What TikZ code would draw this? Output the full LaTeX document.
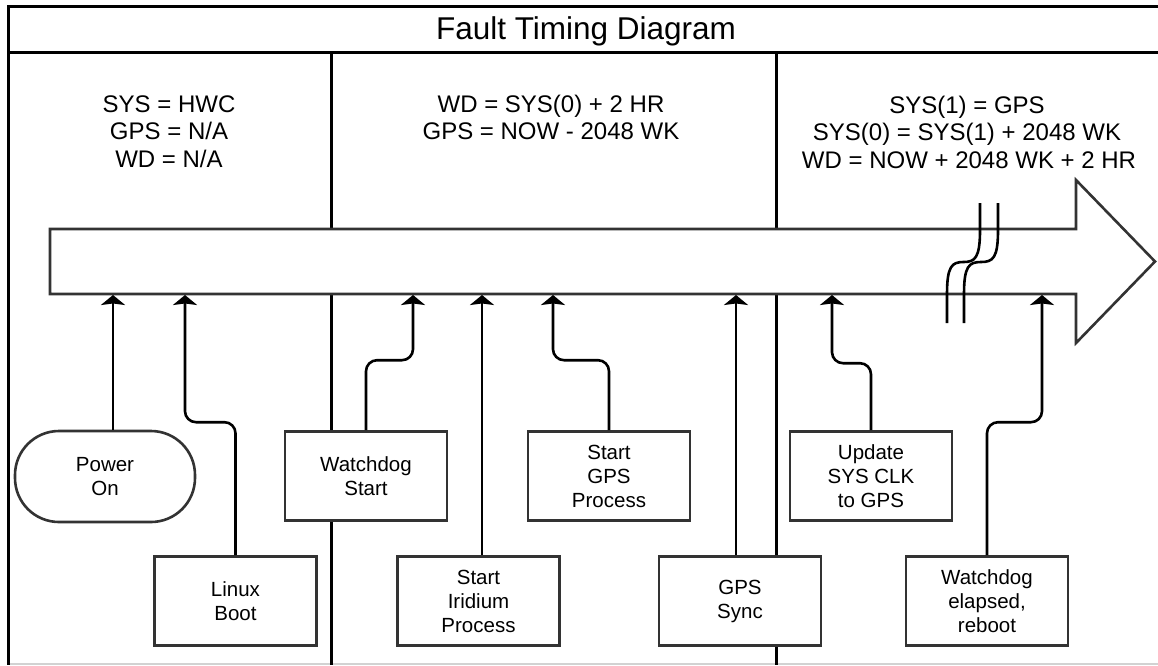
\documentclass[tikz,border=0pt]{standalone}
\usepackage{fontspec}
\setmainfont{Liberation Sans}
\usetikzlibrary{arrows.meta}
\definecolor{boxline}{HTML}{333333}
\begin{document}
\begin{tikzpicture}[x=1pt,y=-1pt,
  frameline/.style={line width=3pt, black},
  shapeline/.style={line width=2.6pt, draw=boxline, fill=white, line join=miter},
  box/.style={shapeline, rectangle, minimum width=162pt, minimum height=89pt, inner sep=0pt, align=center, font=\fontsize{20.5}{24}\selectfont},
  conn/.style={line width=2.6pt, black, -{Stealth[length=10pt 0,width=24pt 0,inset=1.5pt 0]}, rounded corners=11pt},
  headtxt/.style={font=\fontsize{24}{28}\selectfont, anchor=base, inner sep=0pt},
  brk/.style={line width=2.6pt, black},
]
\useasboundingbox (0,0) rectangle (1158,665);
% frame
\draw[gray!35, line width=1.5pt] (8,664) -- (1158,664);
\draw[frameline] (1158,6) -- (8,6) -- (8,665);
\draw[frameline] (8,52) -- (1158,52);
\draw[frameline] (331,52) -- (331,665);
\draw[frameline] (776,52) -- (776,665);
% title
\node[font=\fontsize{31.5}{36}\selectfont, anchor=base, inner sep=0pt] (title) at (586,39) {Fault Timing Diagram};
% headers
\node[headtxt] (h1a) at (169,112) {SYS = HWC};
\node[headtxt] (h1b) at (169,139.5) {GPS = N/A};
\node[headtxt] (h1c) at (169,167) {WD = N/A};
\node[headtxt] (h2a) at (551,112) {WD = SYS(0) + 2 HR};
\node[headtxt] (h2b) at (551,139.5) {GPS = NOW - 2048 WK};
\node[headtxt] (h3a) at (967,113) {SYS(1) = GPS};
\node[headtxt] (h3b) at (967,140.5) {SYS(0) = SYS(1) + 2048 WK};
\node[headtxt] (h3c) at (969,168) {WD = NOW + 2048 WK + 2 HR};
% timeline arrow
\draw[shapeline] (50,229) -- (1076,229) -- (1076,180) -- (1155,261.5) -- (1076,343) -- (1076,294) -- (50,294) -- cycle;
% break marks
\draw[brk] (980,203) -- (980,230) .. controls (980,258) and (975,262) .. (963.5,262) .. controls (952,262) and (947,266) .. (947,294) -- (947,323);
\draw[brk] (998,203) -- (998,230) .. controls (998,258) and (993,262) .. (981,262) .. controls (969,262) and (964,266) .. (964,294) -- (964,323);
% targets on the timeline
\coordinate (t1) at (113,295);
\coordinate (t2) at (185,295);
\coordinate (t3) at (413,295);
\coordinate (t4) at (482,295);
\coordinate (t5) at (553,295);
\coordinate (t6) at (736,295);
\coordinate (t7) at (832,295);
\coordinate (t8) at (1042,295);
% event boxes
\node[box, rounded corners=44pt, minimum width=180pt, minimum height=91pt] (po) at (105,476.5) {Power\\On};
\node[box] (lb) at (235.5,601) {Linux\\Boot};
\node[box] (ws) at (366,476) {Watchdog\\Start};
\node[box] (ir) at (478.5,601) {Start\\Iridium\\Process};
\node[box] (sg) at (609,476) {Start\\GPS\\Process};
\node[box] (gs) at (740,601) {GPS\\Sync};
\node[box] (us) at (871,476) {Update\\SYS CLK\\to GPS};
\node[box] (we) at (987,601) {Watchdog\\elapsed,\\reboot};
% connectors
\draw[conn] (t1 |- po.north) -- (t1);
\draw[conn] (lb.north) -- ++(0,-133) -| (t2);
\draw[conn] (ws.north) -- ++(0,-70) -| (t3);
\draw[conn] (t4 |- ir.north) -- (t4);
\draw[conn] (sg.north) -- ++(0,-70) -| (t5);
\draw[conn] (t6 |- gs.north) -- (t6);
\draw[conn] (us.north) -- ++(0,-67) -| (t7);
\draw[conn] (we.north) -- ++(0,-133) -| (t8);
\end{tikzpicture}
\end{document}
